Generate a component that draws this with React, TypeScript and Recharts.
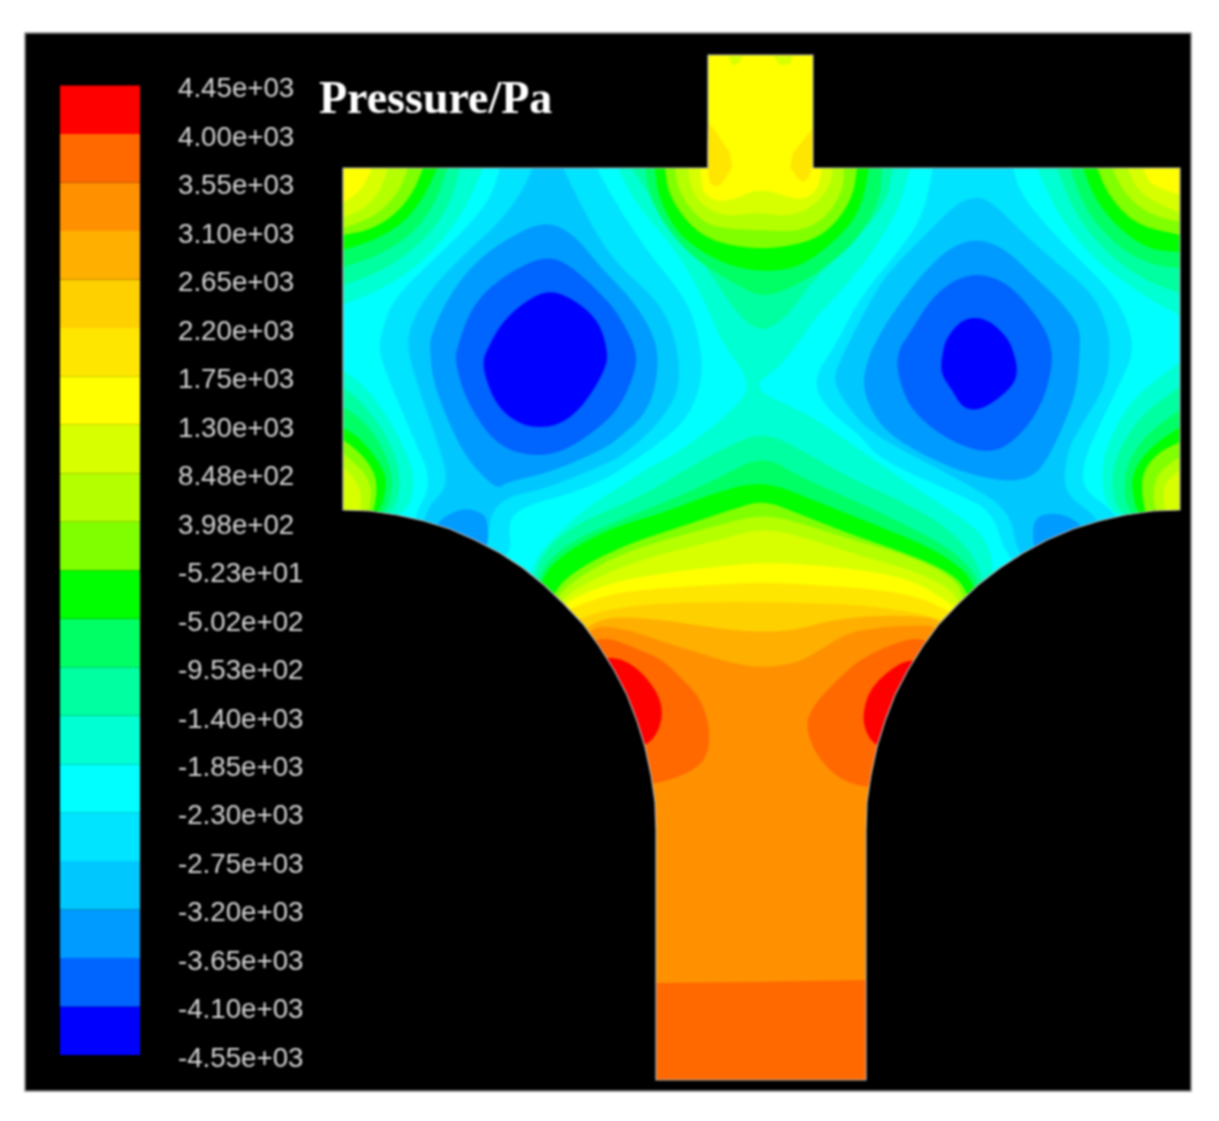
import React from 'react';
import { ScatterChart, Scatter, XAxis, YAxis, BarChart, Bar } from 'recharts';

type Pt = [number, number];

// contour levels, lowest first
const LEVEL_COLORS = [
  '#0000ff', '#0064ff', '#009bff', '#00c8ff', '#00e4ff', '#00ffff', '#00ffd2', '#00ffa0', '#00ff64', '#00ff00',
  '#80ff00', '#b4ff00', '#d7ff00', '#ffff00', '#ffe600', '#ffd000', '#ffaf00', '#ff9100', '#ff6900', '#ff0000',
];
const PRESSURE_LABELS = [
  '-4.55e+03', '-4.10e+03', '-3.65e+03', '-3.20e+03', '-2.75e+03', '-2.30e+03', '-1.85e+03',
  '-1.40e+03', '-9.53e+02', '-5.02e+02', '-5.23e+01', '3.98e+02', '8.48e+02', '1.30e+03',
  '1.75e+03', '2.20e+03', '2.65e+03', '3.10e+03', '3.55e+03', '4.00e+03', '4.45e+03',
];

// geometry of the flow domain
const frame: Pt[] = [[25, 33], [1191, 33], [1191, 1091], [25, 1091]];
const leftWall: Pt[] = [
  [343, 510], [370, 511], [397, 515], [424, 521], [450, 529], [475, 540], [500, 553], [523, 568], [544, 585], [564, 604],
  [583, 624], [599, 646], [614, 670], [627, 695], [637, 721], [645, 747], [651, 775], [655, 802], [656, 830], [656, 1080],
];
const rightWall: Pt[] = [
  [866, 1080], [866, 830], [867, 802], [871, 775], [877, 747], [885, 721], [895, 695], [908, 670], [923, 646], [939, 624],
  [958, 604], [978, 585], [1000, 568], [1023, 553], [1047, 540], [1073, 529], [1099, 521], [1125, 515], [1153, 511], [1180, 510],
];
const upperEdge: Pt[] = [[1180, 168], [813, 168], [813, 55], [708, 55], [708, 168], [343, 168]];
const leftBody: Pt[] = [...leftWall, [656, 1082], [335, 1082], [335, 510]];
const rightBody: Pt[] = [...rightWall, [1188, 510], [1188, 1082], [866, 1082]];
const domain: Pt[] = [...leftWall, ...rightWall, ...upperEdge];

// closes a contour of the lower zone behind the walls and along the outlet
const below: Pt[] = [[1000, 700], [866, 1080], [656, 1080], [520, 700]];
const behindLeft: Pt[] = [[420, 540], [470, 575]];

// upper zone round the inlet
const top7: Pt[] = [[632, 168], [657, 207], [697, 253], [723, 293], [743, 320], [763, 332], [787, 317], [813, 280], [840, 253], [867, 227], [887, 200], [893, 168]];
const top8: Pt[] = [[645, 168], [650, 200], [673, 237], [700, 263], [733, 283], [763, 298], [793, 287], [827, 267], [860, 237], [880, 200], [882, 168]];
const top9: Pt[] = [[655, 168], [658, 197], [677, 233], [703, 253], [733, 267], [767, 272], [800, 267], [833, 243], [860, 213], [869, 168]];
const top10: Pt[] = [[665, 168], [668, 193], [687, 223], [713, 242], [760, 250], [807, 243], [833, 227], [853, 197], [857, 168]];
const top11: Pt[] = [[675, 168], [678, 190], [693, 213], [713, 228], [757, 230], [800, 232], [827, 217], [843, 190], [844, 168]];
const top12: Pt[] = [[688, 168], [690, 187], [703, 207], [727, 217], [757, 212], [787, 217], [813, 207], [830, 187], [833, 168]];
const top13: Pt[] = [[708, 55], [813, 55], [813, 168], [822, 168], [818, 190], [800, 202], [760, 187], [727, 203], [703, 197], [700, 168], [708, 168]];
const inletSpotL: Pt[] = [[728, 56], [743, 56], [738, 64], [732, 65]];
const inletSpotR: Pt[] = [[773, 56], [793, 56], [790, 64], [780, 65]];
const inletBulgeL: Pt[] = [[708, 122], [718, 135], [730, 153], [732, 167], [723, 183], [715, 188], [707, 180]];
const inletBulgeR: Pt[] = [[813, 128], [805, 138], [793, 153], [790, 167], [802, 185], [813, 172]];

// teal band that joins the inlet zone to the lower zone through the saddle
const saddle: Pt[] = [
  [618, 168], [633, 200], [667, 240], [690, 273], [710, 313], [722, 343], [753, 384], [733, 410], [687, 447], [640, 473], [620, 487], [590, 505], [553, 537], [527, 570],
  [520, 700], [656, 1080], [866, 1080], [1000, 700],
  [995, 570], [985, 535], [950, 510], [900, 478], [853, 445], [807, 413], [749, 388], [780, 367], [803, 337], [813, 320], [833, 300], [867, 260], [885, 232], [900, 205], [910, 168],
];

// lower zone, crest lines read left to right
const low7: Pt[] = [[530, 573], [562, 530], [640, 497], [680, 473], [720, 450], [763, 431], [807, 453], [853, 480], [900, 500], [955, 532], [986, 575]];
const low8: Pt[] = [[534, 578], [565, 543], [640, 512], [687, 493], [720, 477], [763, 455], [800, 477], [853, 500], [900, 522], [950, 548], [982, 580]];
const low9: Pt[] = [[537, 582], [563, 553], [613, 527], [663, 513], [713, 493], [763, 480], [813, 500], [863, 520], [913, 540], [947, 557], [978, 583]];
const low10: Pt[] = [[550, 593], [580, 567], [630, 543], [680, 527], [730, 510], [763, 500], [797, 513], [847, 533], [897, 550], [947, 570], [970, 592]];
const low11: Pt[] = [[555, 600], [570, 583], [613, 557], [663, 540], [713, 527], [763, 513], [813, 527], [863, 543], [913, 557], [957, 580], [963, 600]];
const low12: Pt[] = [[560, 603], [573, 590], [613, 570], [663, 553], [713, 542], [763, 527], [813, 540], [863, 557], [913, 570], [953, 590], [960, 607]];
const low13: Pt[] = [[563, 607], [573, 598], [613, 582], [663, 573], [713, 567], [763, 562], [813, 565], [863, 570], [913, 580], [950, 603], [957, 610]];
const low14: Pt[] = [[567, 612], [573, 607], [613, 593], [663, 588], [713, 585], [763, 582], [813, 585], [863, 588], [913, 595], [947, 610], [952, 615]];
const low15: Pt[] = [[572, 623], [580, 618], [613, 608], [663, 603], [713, 602], [763, 602], [813, 603], [863, 605], [913, 612], [943, 620], [947, 622]];
const low16: Pt[] = [[580, 633], [587, 627], [607, 617], [647, 618], [697, 625], [730, 630], [763, 632], [797, 630], [830, 620], [880, 615], [930, 617], [942, 623]];
const low17: Pt[] = [[585, 637], [597, 625], [630, 630], [663, 642], [697, 652], [730, 663], [763, 668], [797, 663], [820, 650], [847, 633], [880, 627], [923, 625], [937, 627]];

const hotLeft: Pt[] = [[593, 640], [610, 638], [640, 650], [663, 660], [680, 677], [700, 697], [710, 727], [708, 757], [690, 773], [653, 785], [620, 785], [570, 650]];
const hotRight: Pt[] = [[927, 640], [907, 638], [863, 657], [840, 677], [813, 705], [805, 727], [817, 757], [840, 780], [868, 788], [900, 788], [950, 650]];
const peakLeft: Pt[] = [[603, 658], [620, 658], [640, 670], [658, 693], [663, 713], [658, 733], [645, 747], [620, 747], [585, 660]];
const peakRight: Pt[] = [[917, 660], [900, 662], [870, 687], [862, 717], [867, 735], [877, 747], [905, 747], [935, 665]];
const outletBand: Pt[] = [[656, 983], [750, 982], [866, 980], [866, 1080], [656, 1080]];

// four corner zones
const cornerTL: Pt[][] = [
  [[343, 168], [483, 168], [465, 210], [435, 250], [395, 283], [343, 305]],
  [[343, 168], [460, 168], [450, 205], [425, 240], [385, 270], [343, 285]],
  [[343, 168], [447, 168], [437, 200], [415, 232], [380, 255], [343, 267]],
  [[343, 168], [437, 168], [425, 195], [405, 222], [375, 240], [343, 250]],
  [[343, 168], [423, 168], [413, 193], [395, 215], [370, 230], [343, 235]],
  [[343, 168], [408, 168], [400, 190], [383, 210], [362, 222], [343, 228]],
  [[343, 168], [388, 168], [380, 192], [365, 208], [343, 218]],
  [[343, 168], [372, 168], [362, 190], [343, 203]],
];
const cornerTR: Pt[][] = [
  [[1180, 168], [1037, 168], [1060, 220], [1100, 265], [1150, 300], [1180, 315]],
  [[1180, 168], [1057, 168], [1075, 215], [1110, 257], [1150, 283], [1180, 293]],
  [[1180, 168], [1070, 168], [1085, 210], [1115, 245], [1150, 265], [1180, 268]],
  [[1180, 168], [1083, 168], [1095, 200], [1120, 230], [1150, 250], [1180, 252]],
  [[1180, 168], [1097, 168], [1108, 195], [1135, 225], [1180, 235]],
  [[1180, 168], [1112, 168], [1125, 195], [1150, 215], [1180, 222]],
  [[1180, 168], [1127, 168], [1140, 195], [1180, 213]],
  [[1180, 168], [1143, 168], [1150, 185], [1180, 195]],
];
const cornerBL: Pt[][] = [
  [[343, 370], [373, 393], [403, 443], [417, 483], [403, 520], [343, 520]],
  [[343, 387], [363, 403], [390, 440], [403, 483], [390, 520], [343, 520]],
  [[343, 407], [363, 420], [383, 447], [395, 483], [383, 520], [343, 520]],
  [[343, 428], [360, 438], [380, 463], [388, 483], [377, 520], [343, 520]],
  [[343, 440], [357, 450], [372, 467], [378, 487], [372, 520], [343, 520]],
  [[343, 453], [353, 462], [367, 475], [372, 493], [367, 520], [343, 520]],
  [[343, 467], [350, 473], [362, 490], [360, 520], [343, 520]],
];
const cornerBR: Pt[][] = [
  [[1180, 362], [1133, 397], [1110, 437], [1100, 473], [1110, 520], [1180, 520]],
  [[1180, 387], [1143, 413], [1120, 447], [1110, 480], [1120, 520], [1180, 520]],
  [[1180, 410], [1147, 433], [1127, 463], [1123, 493], [1133, 520], [1180, 520]],
  [[1180, 427], [1150, 447], [1132, 473], [1132, 493], [1140, 520], [1180, 520]],
  [[1180, 442], [1157, 453], [1142, 473], [1142, 497], [1147, 520], [1180, 520]],
  [[1180, 457], [1160, 470], [1152, 490], [1157, 520], [1180, 520]],
  [[1180, 470], [1167, 480], [1162, 493], [1167, 520], [1180, 520]],
];

// the two low pressure wells
const wellL4: Pt[] = [
  [500, 168], [490, 200], [460, 235], [425, 267], [393, 300], [383, 327], [378, 350], [390, 383], [413, 437], [433, 483], [413, 517], ...behindLeft,
  [513, 557], [507, 520], [527, 505], [573, 493], [607, 478], [620, 470], [653, 448], [687, 420], [703, 380], [700, 340], [687, 300], [650, 255], [620, 210], [600, 175], [597, 168],
];
const wellL3: Pt[] = [
  [533, 168], [520, 195], [497, 225], [463, 255], [430, 290], [410, 325], [407, 350], [420, 393], [437, 440], [450, 485], [427, 507], ...behindLeft,
  [488, 550], [490, 513], [507, 497], [540, 490], [573, 478], [607, 463], [620, 457], [653, 430], [677, 397], [680, 367], [673, 330], [657, 300], [620, 267], [600, 240], [580, 203], [563, 168],
];
const wellL2: Pt[] = [
  [547, 221], [517, 233], [480, 257], [450, 293], [430, 337], [430, 350], [433, 383], [453, 433], [470, 463], [497, 490], [507, 482], [540, 475], [573, 463], [607, 447], [620, 437], [647, 413], [658, 377], [657, 340], [633, 300], [600, 267], [575, 235],
];
const wellL1: Pt[] = [
  [547, 255], [507, 273], [473, 303], [457, 347], [455, 363], [467, 403], [497, 447], [537, 457], [567, 450], [600, 427], [620, 407], [635, 373], [637, 350], [620, 317], [607, 300], [573, 267],
];
const wellL0: Pt[] = [
  [548, 289], [520, 305], [500, 325], [487, 350], [483, 360], [485, 377], [497, 407], [523, 427], [557, 427], [583, 407], [607, 367], [607, 347], [598, 320], [575, 300],
];
const patchL: Pt[] = [[435, 522], [463, 507], [483, 513], [488, 523], [488, 550], [470, 565], [435, 545]];

const wellR4: Pt[] = [
  [933, 168], [923, 217], [897, 253], [858, 300], [837, 343], [812, 380], [827, 410], [860, 435], [880, 460], [960, 495], [993, 512], [1005, 555], [1040, 590], [1130, 540],
  [1113, 510], [1083, 490], [1083, 463], [1097, 430], [1120, 383], [1133, 355], [1130, 327], [1113, 293], [1080, 260], [1047, 227], [1020, 193], [1013, 168],
];
const wellR3: Pt[] = [
  [977, 196], [957, 203], [930, 230], [900, 260], [880, 283], [855, 330], [838, 365], [833, 382], [850, 410], [873, 435], [960, 480], [1010, 510], [1017, 553], [1040, 580], [1110, 540],
  [1093, 513], [1063, 493], [1067, 450], [1083, 423], [1107, 383], [1110, 350], [1108, 327], [1093, 293], [1053, 260], [1020, 230], [993, 203],
];
const wellR2: Pt[] = [
  [978, 238], [950, 247], [923, 273], [897, 307], [880, 333], [867, 360], [862, 390], [880, 427], [913, 450], [963, 473], [1007, 482], [1033, 477], [1047, 460], [1063, 427], [1077, 390], [1080, 350], [1080, 327], [1060, 300], [1030, 273], [1007, 250],
];
const wellR1: Pt[] = [
  [980, 273], [953, 280], [930, 300], [910, 333], [898, 350], [897, 373], [910, 410], [947, 440], [987, 454], [1013, 443], [1040, 410], [1053, 367], [1050, 337], [1030, 307], [1007, 283],
];
const wellR0: Pt[] = [
  [963, 318], [987, 318], [1007, 337], [1013, 350], [1018, 370], [1013, 387], [983, 410], [963, 409], [952, 390], [940, 373], [943, 350], [947, 337],
];
const patchR: Pt[] = [[1033, 517], [1057, 512], [1080, 522], [1090, 545], [1040, 575], [1033, 547]];

const closeBelow = (line: Pt[]): Pt[] => [...line, ...below];

// paint order: base, rising levels, then the wells going down
const contours: { level: number; points: Pt[] }[] = [
  { level: 5, points: domain },
  { level: 6, points: saddle },
  ...[cornerTL, cornerTR, cornerBL, cornerBR].flatMap((zone) => zone.map((points, i) => ({ level: 6 + i, points }))),
  { level: 7, points: top7 },
  { level: 8, points: top8 },
  { level: 9, points: top9 },
  { level: 10, points: top10 },
  { level: 11, points: top11 },
  { level: 12, points: top12 },
  { level: 13, points: top13 },
  { level: 12, points: inletSpotL },
  { level: 12, points: inletSpotR },
  { level: 14, points: inletBulgeL },
  { level: 14, points: inletBulgeR },
  ...[low7, low8, low9, low10, low11, low12, low13, low14, low15, low16, low17].map((line, i) => ({ level: 7 + i, points: closeBelow(line) })),
  { level: 18, points: hotLeft },
  { level: 18, points: hotRight },
  { level: 19, points: peakLeft },
  { level: 19, points: peakRight },
  { level: 18, points: outletBand },
  { level: 4, points: wellL4 },
  { level: 4, points: wellR4 },
  { level: 3, points: wellL3 },
  { level: 3, points: wellR3 },
  { level: 2, points: wellL2 },
  { level: 2, points: wellR2 },
  { level: 2, points: patchL },
  { level: 2, points: patchR },
  { level: 1, points: wellL1 },
  { level: 1, points: wellR1 },
  { level: 0, points: wellL0 },
  { level: 0, points: wellR0 },
];

const toRows = (points: Pt[]) => points.map(([x, y]) => ({ x, y }));
const barRow = [Object.fromEntries(LEVEL_COLORS.map((_, i) => [`s${i}`, 1]))];
const legendTicks = PRESSURE_LABELS.map((_, i) => i);

const Nothing = () => null;

// closed curve that rounds each vertex, but keeps corners on the domain edges sharp
const isSharp = ([x, y]: Pt) => x <= 343 || x >= 1180 || y <= 168 || y >= 975;
const roundedClosed = (context: any) => {
  let pts: Pt[] = [];
  const mid = (a: Pt, b: Pt): Pt => [(a[0] + b[0]) / 2, (a[1] + b[1]) / 2];
  return {
    areaStart() {},
    areaEnd() {},
    lineStart() {
      pts = [];
    },
    point(x: number, y: number) {
      pts.push([+x, +y]);
    },
    lineEnd() {
      const n = pts.length;
      const start = mid(pts[n - 1], pts[0]);
      context.moveTo(start[0], start[1]);
      pts.forEach((p, i) => {
        const m = mid(p, pts[(i + 1) % n]);
        if (isSharp(p)) {
          context.lineTo(p[0], p[1]);
          context.lineTo(m[0], m[1]);
        } else {
          context.quadraticCurveTo(p[0], p[1], m[0], m[1]);
        }
      });
      context.closePath();
    },
  };
};

const polygon = (points: Pt[], key: string, fill: string, curve: any = 'linearClosed', stroke = 'none', strokeWidth = 0) => (
  <Scatter
    key={key}
    data={toRows(points)}
    isAnimationActive={false}
    shape={Nothing}
    lineType="joint"
    lineJointType={curve}
    line={{ fill, stroke, strokeWidth }}
    legendType="none"
  />
);

export default function App() {
  return (
    <div style={{ position: 'absolute', left: 0, top: 0, width: 1219, height: 1121, background: '#fff', overflow: 'hidden', filter: 'blur(1px)' }}>
      <div style={{ position: 'absolute', left: 0, top: 0 }}>
        <ScatterChart width={1219} height={1121} margin={{ top: 0, right: 0, bottom: 0, left: 0 }}>
          <XAxis type="number" dataKey="x" domain={[0, 1219]} hide />
          <YAxis type="number" dataKey="y" domain={[0, 1121]} reversed hide />
          {polygon(frame, 'frame', '#000', 'linearClosed', '#8a8a8a', 1.5)}
          {contours.map((c, i) => polygon(c.points, `c${i}`, LEVEL_COLORS[c.level], roundedClosed))}
          {polygon(leftBody, 'bodyL', '#000')}
          {polygon(rightBody, 'bodyR', '#000')}
          {polygon(domain, 'outline', 'none', 'linearClosed', '#b5b5b5', 1.2)}
        </ScatterChart>
      </div>
      <div style={{ position: 'absolute', left: 60, top: 60 }}>
        <BarChart
          width={270}
          height={1020}
          data={barRow}
          barCategoryGap={0}
          margin={{ top: 25.5, right: 0, bottom: 25, left: 0 }}
        >
          <XAxis hide />
          <YAxis
            type="number"
            orientation="right"
            domain={[0, 20]}
            ticks={legendTicks}
            interval={0}
            width={190}
            axisLine={false}
            tickLine={false}
            tickSize={0}
            tickMargin={38}
            tickFormatter={(v: number) => PRESSURE_LABELS[v]}
            tick={{ fill: '#d6d6d6', fontSize: 27.7, fontFamily: '"Liberation Sans", Arial, sans-serif', dy: 2, textAnchor: 'start' }}
          />
          {LEVEL_COLORS.map((color, i) => (
            <Bar key={i} dataKey={`s${i}`} stackId="scale" fill={color} isAnimationActive={false} />
          ))}
        </BarChart>
      </div>
      <div
        style={{
          position: 'absolute',
          left: 319,
          top: 71,
          color: '#fff',
          fontFamily: '"Liberation Serif", "Times New Roman", serif',
          fontWeight: 'bold',
          fontSize: 46,
          lineHeight: '54px',
          whiteSpace: 'nowrap',
        }}
      >
        Pressure/Pa
      </div>
    </div>
  );
}
